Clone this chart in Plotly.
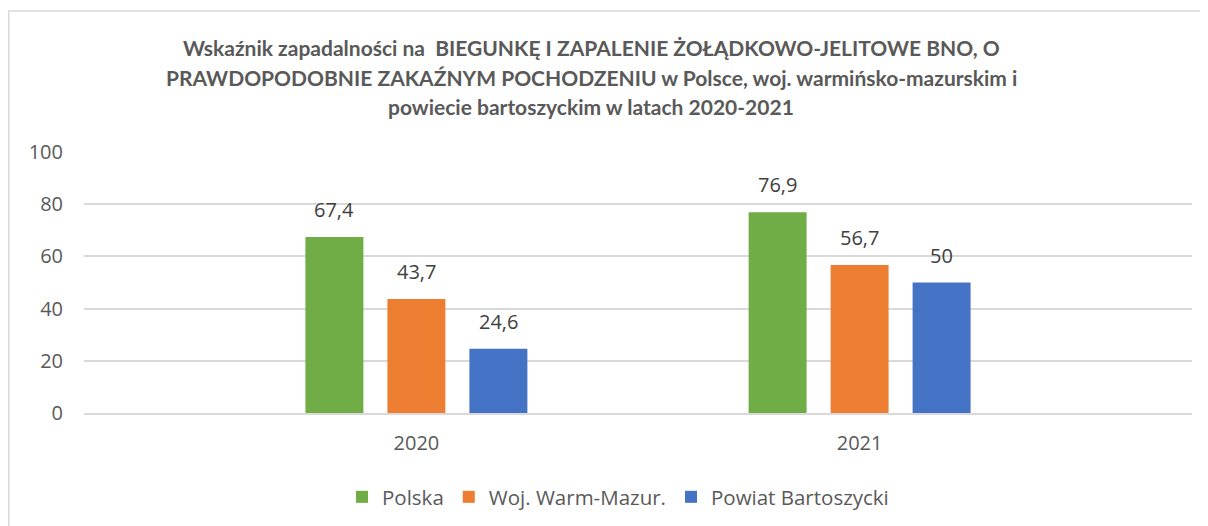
import plotly.graph_objects as go

years = ["2020", "2021"]
series_names = ["Polska", "Woj. Warm-Mazur.", "Powiat Bartoszycki"]
polska = [67.4, 76.9]
warm_mazur = [43.7, 56.7]
powiat = [24.6, 50]
colors = ["#70AD47", "#ED7D31", "#4472C4"]
title_lines = [
    "Wskaźnik zapadalności na  BIEGUNKĘ I ZAPALENIE ŻOŁĄDKOWO-JELITOWE BNO, O",
    "PRAWDOPODOBNIE ZAKAŹNYM POCHODZENIU w Polsce, woj. warmińsko-mazurskim i",
    "powiecie bartoszyckim w latach 2020-2021",
]
y_ticks = [0, 20, 40, 60, 80, 100]

FONT = "Open Sans"
TFONT = "Lato"
GRAY = "#595959"

bargap = 0.445
bargroupgap = 0.293
values = [polska, warm_mazur, powiat]

# page body has an 8px margin; figure is laid out in its own pixel space
OFF = 8
W, H = 1200, 518
plot_l, plot_r = 84 - OFF, 1192 - OFF
plot_t, plot_b = 152 - OFF, 413 - OFF
plot_w, plot_h = plot_r - plot_l, plot_b - plot_t

fig = go.Figure()
for name, vals, col in zip(series_names, values, colors):
    fig.add_trace(go.Bar(x=years, y=vals, name=name, marker=dict(color=col, line=dict(width=0))))

# data labels
slot = (1 - bargap) / len(values)
annotations = []
for si, vals in enumerate(values):
    for ci, v in enumerate(vals):
        xpos = ci + (si - (len(values) - 1) / 2) * slot
        annotations.append(dict(
            x=xpos, y=v, xref="x", yref="y", text=f"{v:g}".replace(".", ","),
            showarrow=False, yanchor="bottom", yshift=12,
            font=dict(family=FONT, size=20, color="#404040"),
        ))

# title lines
for i, line in enumerate(title_lines):
    ypx = 48 - OFF + i * 29
    annotations.append(dict(
        x=(591 - OFF - plot_l) / plot_w, y=(plot_b - ypx) / plot_h, xref="paper", yref="paper",
        text=f"<b>{line}</b>", showarrow=False, xanchor="center", yanchor="middle",
        font=dict(family=TFONT, size=21, color=GRAY),
    ))

frame_x = 8 - OFF
frame_y = 11 - OFF
shapes = [
    dict(type="line", xref="paper", yref="paper",
         x0=(frame_x - plot_l) / plot_w, x1=(W + 5 - plot_l) / plot_w,
         y0=(plot_b - frame_y) / plot_h, y1=(plot_b - frame_y) / plot_h,
         line=dict(color="#D9D9D9", width=1.5)),
    dict(type="line", xref="paper", yref="paper",
         x0=(frame_x + 0.75 - plot_l) / plot_w, x1=(frame_x + 0.75 - plot_l) / plot_w,
         y0=(plot_b - frame_y) / plot_h, y1=(plot_b - H - 5) / plot_h,
         line=dict(color="#D9D9D9", width=1.5)),
]

fig.update_layout(
    width=W, height=H,
    margin=dict(l=plot_l, r=W - plot_r, t=plot_t, b=H - plot_b, autoexpand=False),
    paper_bgcolor="white", plot_bgcolor="white",
    barmode="group", bargap=bargap, bargroupgap=bargroupgap,
    font=dict(family=FONT, size=19, color=GRAY),
    showlegend=True,
    legend=dict(orientation="h", x=(610 - plot_l) / plot_w, xanchor="center",
                y=(plot_b - (497 - OFF)) / plot_h, yanchor="middle",
                font=dict(family=FONT, size=20.5, color=GRAY), itemwidth=30, traceorder="normal"),
    annotations=annotations,
    shapes=shapes,
    xaxis=dict(range=[-0.75, 1.75], showgrid=False, showline=True, linecolor="#D9D9D9", linewidth=1.5,
               ticks="", tickfont=dict(family=FONT, size=20, color=GRAY), ticklabelstandoff=11),
    yaxis=dict(range=[0, 100], tickvals=y_ticks, showgrid=True, gridcolor="#D9D9D9", gridwidth=1.5,
               zeroline=False, showline=False, ticks="",
               tickfont=dict(family=FONT, size=20, color=GRAY), ticklabelstandoff=20),
)

fig.write_html("out.html")
